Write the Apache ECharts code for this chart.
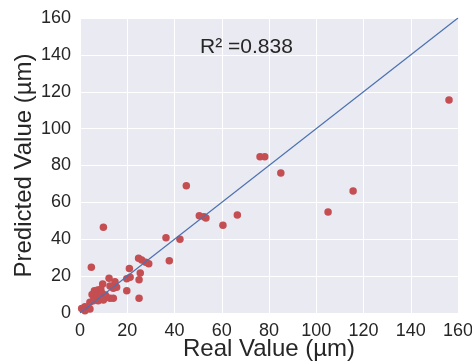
<!DOCTYPE html>
<html>
<head>
<meta charset="utf-8">
<script src="https://cdn.jsdelivr.net/npm/echarts@6/dist/echarts.min.js"></script>
<style>html,body{margin:0;padding:0;background:#fff}#c{width:472px;height:363px}</style>
</head>
<body>
<div id="c"></div>
<script>
var realValues = [156.2,115.6,105,85,76.2,78.2,45,50.5,52.5,53.3,60.5,66.6,42.3,36.4,37.8,9.9,24.8,26.1,27.8,29.1,4.8,20.9,25.5,21.2,19.8,25,12.3,14.8,9.6,12.7,15.5,14.1,19.8,6.1,7.5,8.8,5.1,7.1,9.3,10.7,11.3,12.7,14.1,8.5,9.9,7.7,25,5.6,4.2,2.1,0.7,4.2,2.1];
var predictedValues = [115.5,66.2,54.8,75.9,84.8,84.8,69,52.8,52.2,51.5,47.6,53.1,40,40.8,28.4,46.5,29.7,28.7,27.5,26.7,24.8,24.2,21.7,19.4,18.6,18.1,18.8,17,15.7,14.6,13.9,13.4,12.1,12.1,12.5,12.9,10.1,9.8,10.7,9.8,8.5,8,8,8,7,6.7,8,6.7,5.8,3.4,2.5,2.2,1.2];
var identityLine = [[0,0],[160,160]];
var axisTicks = [0,20,40,60,80,100,120,140,160];
var r2Text = 'R\u00b2 =0.838';

var points = realValues.map(function(v,i){return [v, predictedValues[i]];});
var chart = echarts.init(document.getElementById('c'));
var font = 'Liberation Sans, Arial, sans-serif';
function axis(name, gap){
  return {
    type:'value', min:axisTicks[0], max:axisTicks[axisTicks.length-1], interval:20,
    name:name, nameLocation:'middle', nameGap:gap, nameMoveOverlap:false,
    nameTextStyle:{fontSize:24, color:'#262626', fontFamily:font},
    axisLine:{show:false}, axisTick:{show:false},
    axisLabel:{fontSize:18, color:'#262626', fontFamily:font, margin:9},
    splitLine:{lineStyle:{color:'#ffffff', width:1}}
  };
}
chart.setOption({
  animation:false,
  grid:{left:80, right:14, top:18, bottom:50, show:true, backgroundColor:'#EAEAF2', borderWidth:0,
        containLabel:false, outerBoundsMode:'none'},
  xAxis: axis('Real Value (\u00b5m)', 24),
  yAxis: axis('Predicted Value (\u00b5m)', 44),
  graphic:[{type:'text', left:200, top:37, style:{text:r2Text, fontSize:21, fill:'#262626', fontFamily:font}}],
  series:[
    {type:'line', data:identityLine, symbol:'none', lineStyle:{color:'#4C72B0', width:1.2}, z:3},
    {type:'scatter', data:points, symbolSize:7.5, itemStyle:{color:'#C44E52', opacity:1}, z:2}
  ]
});
</script>
</body>
</html>
